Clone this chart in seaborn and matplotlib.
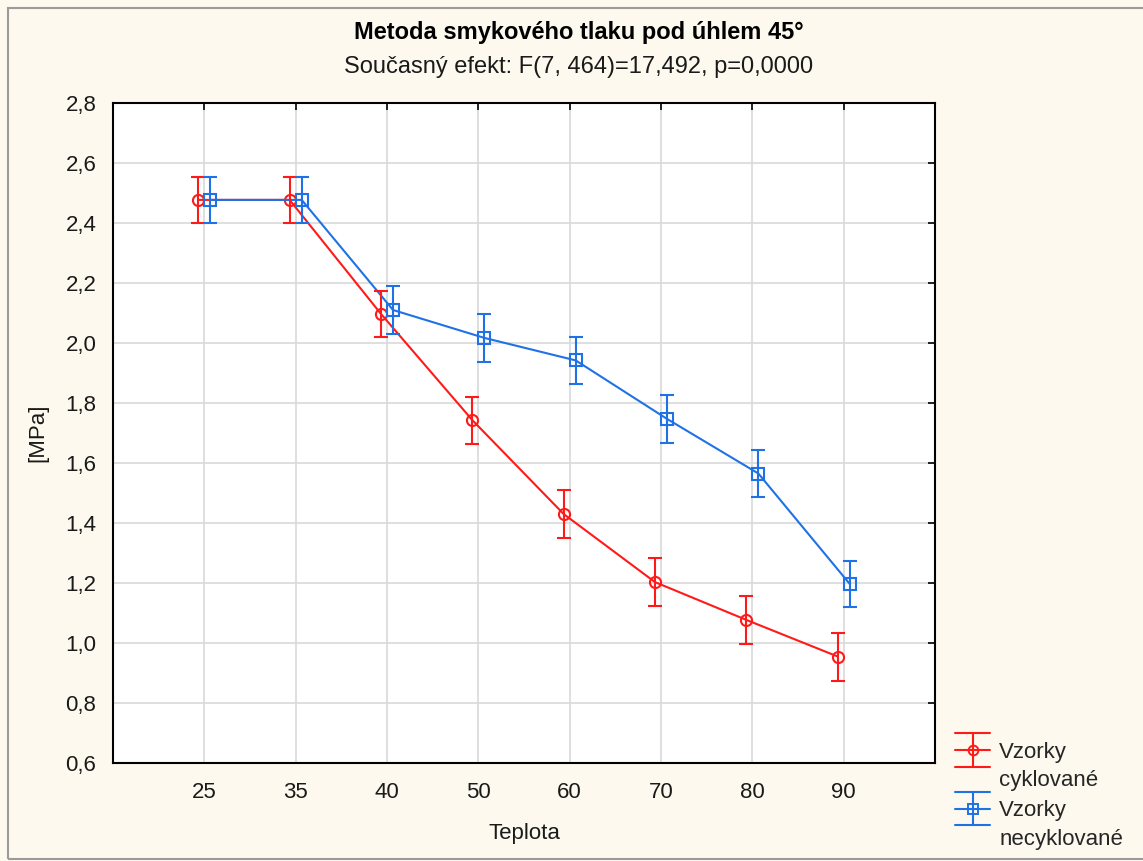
import pandas as pd
import numpy as np
import matplotlib
matplotlib.use("Agg")
import matplotlib.pyplot as plt
import seaborn as sns
from matplotlib.patches import Rectangle
from matplotlib.lines import Line2D
from matplotlib.ticker import FuncFormatter
from matplotlib.legend_handler import HandlerBase

teploty = ["25", "35", "40", "50", "60", "70", "80", "90"]
cyklovane = [2.477, 2.477, 2.097, 1.743, 1.43, 1.203, 1.077, 0.955]
necyklovane = [2.477, 2.477, 2.11, 2.017, 1.942, 1.747, 1.565, 1.197]
err_cyklovane = [0.078, 0.078, 0.078, 0.078, 0.08, 0.08, 0.08, 0.08]
err_necyklovane = [0.078, 0.078, 0.08, 0.08, 0.078, 0.08, 0.078, 0.077]

series_names = ["Vzorky\ncyklované", "Vzorky\nnecyklované"]
colors = ["#FF1A1A", "#1F72E6"]
markers = ["o", "s"]
offsets = [-0.066, 0.066]


class ErrHandle:
    def __init__(self, color, marker):
        self.color = color
        self.marker = marker


class HandlerStat(HandlerBase):
    # legend symbol: line with marker, plus full-width caps above and below
    def create_artists(self, legend, orig, xd, yd, width, height, fontsize, trans):
        c = orig.color
        mid = height / 2 - yd + 12
        cap = 12
        arts = [
            Line2D([0, width], [mid, mid], color=c, lw=1.5),
            Line2D([0, width], [mid + cap, mid + cap], color=c, lw=1.5),
            Line2D([0, width], [mid - cap, mid - cap], color=c, lw=1.5),
            Line2D([width / 2, width / 2], [mid - cap, mid + cap], color=c, lw=1.5),
            Line2D([width / 2], [mid], marker=orig.marker, markersize=7,
                   markerfacecolor="none", markeredgecolor=c, markeredgewidth=1.4),
        ]
        for a in arts:
            a.set_transform(trans)
        return arts


sns.set_theme(style="whitegrid")
plt.rcParams['font.family'] = ['Liberation Sans', 'DejaVu Sans']

fig = plt.figure(figsize=(11.43, 8.61), dpi=100)
fig.patch.set_facecolor("#FDF9EE")
fig.patches.append(Rectangle((8 / 1143, 2 / 861), 1.0, 1 - 10 / 861,
                             transform=fig.transFigure, fill=False,
                             edgecolor="#9a9a9a", linewidth=1.5))

ax = fig.add_axes([113 / 1143, 98 / 861, 822 / 1143, 660 / 861])
ax.set_facecolor("white")

idx = np.arange(len(teploty))
rows = []
for name, vals, errs, off in zip(series_names, [cyklovane, necyklovane],
                                 [err_cyklovane, err_necyklovane], offsets):
    for i, (v, e) in enumerate(zip(vals, errs)):
        rows.append({"x": i + off, "y": v, "err": e, "serie": name})
df = pd.DataFrame(rows)

sns.lineplot(data=df, x="x", y="y", hue="serie", style="serie",
             palette=dict(zip(series_names, colors)),
             markers=dict(zip(series_names, markers)), dashes=False,
             markersize=8, linewidth=1.5, ax=ax, legend=False, zorder=3)

for line, c in zip(ax.lines, colors):
    line.set_markeredgecolor(c)
    line.set_markerfacecolor("none")
    line.set_markeredgewidth(1.5)

for name, c in zip(series_names, colors):
    sub = df[df["serie"] == name]
    ax.errorbar(sub["x"], sub["y"], yerr=sub["err"], fmt="none",
                ecolor=c, elinewidth=1.5, capsize=5, capthick=1.5, zorder=3)

ax.set_xlim(-1, 8)
ax.set_ylim(0.6, 2.8)
ax.set_xticks(idx)
ax.set_xticklabels(teploty)
ax.set_yticks(np.arange(0.6, 2.81, 0.2))
ax.yaxis.set_major_formatter(FuncFormatter(lambda v, p: f"{v:.1f}".replace(".", ",")))

ax.grid(True, color="#d9d9d9", linewidth=1.2)
for s in ax.spines.values():
    s.set_color("black")
    s.set_linewidth(1.5)
ax.tick_params(axis="both", direction="in", length=5, width=1.2, color="black",
               top=True, right=True, labelsize=16, labelcolor="#1a1a1a")
ax.tick_params(axis="x", pad=14)
ax.tick_params(axis="y", pad=12)

ax.set_xlabel("Teplota", fontsize=16, labelpad=14, color="#1a1a1a")
ax.set_ylabel("[MPa]", fontsize=16, labelpad=12, color="#1a1a1a")

fig.text(579 / 1143, 1 - 33 / 861, "Metoda smykového tlaku pod úhlem 45°",
         ha="center", va="center", fontsize=17, fontweight="bold", color="black")
fig.text(579 / 1143, 1 - 67 / 861, "Současný efekt: F(7, 464)=17,492, p=0,0000",
         ha="center", va="center", fontsize=17, color="#1a1a1a")

proxies = [ErrHandle(c, m) for c, m in zip(colors, markers)]
leg = fig.legend(handles=proxies, labels=series_names, loc="upper left",
                 bbox_to_anchor=(946 / 1143, 1 - 733 / 861), borderaxespad=0,
                 frameon=False, fontsize=16, handlelength=1.6, handletextpad=0.4,
                 labelspacing=0.42, borderpad=0.4,
                 handler_map={ErrHandle: HandlerStat()})
for t in leg.get_texts():
    t.set_linespacing(1.45)

fig.savefig("out.png", dpi=100, facecolor=fig.get_facecolor())
